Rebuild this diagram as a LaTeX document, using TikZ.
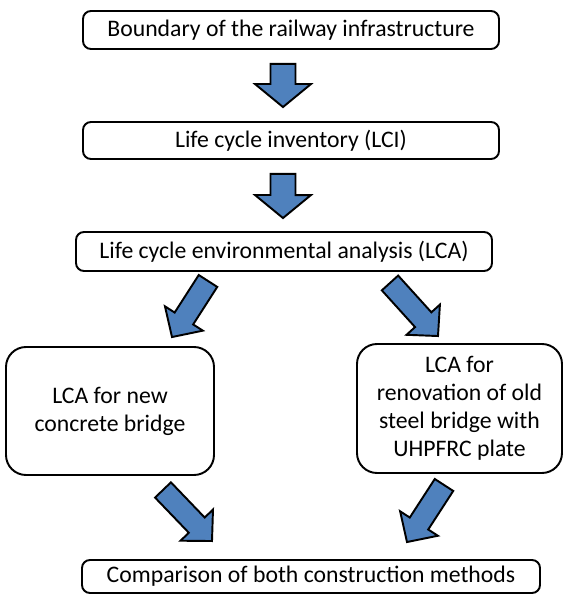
\documentclass[tikz,border=0pt]{standalone}
\usepackage{fontspec}
\setmainfont{Carlito}
\usetikzlibrary{calc}
\definecolor{arrowblue}{RGB}{79,129,189}
\tikzset{
  arr shaft/.code={\def\arrshaft{#1}},
  arr head/.code={\def\arrhead{#1}},
  arr len/.code={\def\arrlen{#1}},
  arr shaft=0.5cm, arr head=1.12cm, arr len=0.46cm,
  blockarrow/.style={draw=black, line width=1.1pt, fill=arrowblue, line join=miter,
    to path={let \p1=(\tikztostart), \p2=(\tikztotarget),
      \n1={atan2(\y2-\y1,\x2-\x1)}, \n2={veclen(\x2-\x1,\y2-\y1)-\arrlen} in
      ($(\p1)+(\n1+90:{\arrshaft/2})$) -- ++(\n1:{\n2*1pt}) -- ++(\n1+90:{(\arrhead-\arrshaft)/2})
      -- (\p2) -- ($(\p1)+(\n1:{\n2*1pt})+(\n1-90:{\arrhead/2})$) -- ++(\n1+90:{(\arrhead-\arrshaft)/2})
      -- ($(\p1)+(\n1-90:{\arrshaft/2})$) -- cycle}},
}

\begin{document}
\begin{tikzpicture}[every node/.style={font=\fontsize{13.5}{16}\selectfont},
    stage/.style={draw, line width=1.1pt, rounded corners=0.16cm, inner sep=0pt, align=center},
    bigstage/.style={stage, rounded corners=0.4cm}]
  \useasboundingbox (0,0) rectangle (11.26,11.88);
  % main chain
  \node[stage, minimum width=8.32cm, minimum height=0.76cm] (bound) at (5.82,11.28) {Boundary of the railway infrastructure};
  \node[stage, minimum width=8.32cm, minimum height=0.74cm] (lci) at (5.82,9.07) {Life cycle inventory (LCI)};
  \node[stage, minimum width=8.32cm, minimum height=0.78cm] (lca) at (5.68,6.85) {Life cycle environmental analysis (LCA)};
  % the two variants
  \node[bigstage, minimum width=4.16cm, minimum height=2.56cm] (concrete) at (2.2,3.66) {LCA for new\\concrete bridge};
  \node[bigstage, minimum width=4.1cm, minimum height=2.58cm] (steel) at (9.19,3.71) {LCA for\\renovation of old\\steel bridge with\\UHPFRC plate};
  \node[stage, minimum width=9.16cm, minimum height=0.66cm] (compare) at (6.22,0.35) {Comparison of both construction methods};
  % block arrows
  \draw[blockarrow] ($(bound.south)+(-0.16,-0.28)$) to ($(lci.north)+(-0.16,0.28)$);
  \draw[blockarrow] ($(lci.south)+(-0.16,-0.28)$) to ($(lca.north)+(-0.02,0.26)$);
  \begin{scope}[arr shaft=0.44cm, arr head=0.9cm, arr len=0.44cm]
    \draw[blockarrow] ($(lca.south)+(-1.52,-0.18)$) to ($(concrete.north)+(1.24,0.18)$);
    \draw[blockarrow] ($(lca.south)+(2.12,-0.22)$) to ($(steel.north)+(-0.43,0.14)$);
    \draw[blockarrow] ($(concrete.south)+(1.06,-0.28)$) to ($(compare.north)+(-1.98,0.36)$);
    \draw[blockarrow] ($(steel.south)+(-0.31,-0.22)$) to ($(compare.north)+(1.92,0.34)$);
  \end{scope}
\end{tikzpicture}
\end{document}
